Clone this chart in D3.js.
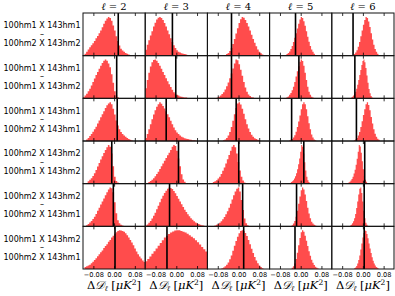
<!DOCTYPE html>
<html><head><meta charset="utf-8">
<script src="https://cdn.jsdelivr.net/npm/d3@7"></script>
<style>body{margin:0;background:#fff}svg{display:block}</style>
</head><body>
<svg id="c" width="395" height="296"></svg>
<script>
// ---------- data ----------
const ells = [2, 3, 4, 5, 6];
const rowLabels = [
  ["100hm1 X 143hm1", "100hm2 X 143hm2"],
  ["100hm1 X 143hm1", "100hm1 X 143hm2"],
  ["100hm1 X 143hm1", "100hm2 X 143hm1"],
  ["100hm2 X 143hm2", "100hm1 X 143hm2"],
  ["100hm2 X 143hm2", "100hm2 X 143hm1"],
  ["100hm1 X 143hm2", "100hm2 X 143hm1"]
];
const tickValues = [-0.08, 0.0, 0.08];
const xDomain = [-0.12, 0.12];

// first bin edge of each histogram (rows x columns)
const binStart = [
  [-0.114, -0.120, -0.054, -0.060, -0.040],
  [-0.120, -0.120, -0.084, -0.060, -0.046],
  [-0.108, -0.120, -0.060, -0.045, -0.035],
  [-0.108, -0.114, -0.105, -0.042, -0.060],
  [-0.108, -0.120, -0.093, -0.035, -0.050],
  [-0.114, -0.120, -0.066, -0.035, -0.034]
];
// bin width of each histogram
const binWidth = [
  [0.006, 0.006, 0.006, 0.005, 0.005],
  [0.006, 0.006, 0.006, 0.005, 0.004],
  [0.006, 0.006, 0.006, 0.005, 0.005],
  [0.006, 0.006, 0.006, 0.004, 0.004],
  [0.006, 0.006, 0.006, 0.005, 0.004],
  [0.006, 0.008, 0.006, 0.005, 0.004]
];
// observed value (vertical black line)
const observed = [
  [0.016, -0.015, -0.027, -0.020, -0.038],
  [0.010, -0.002, -0.027, -0.007, -0.031],
  [0.012, -0.039, -0.009, -0.035, -0.025],
  [-0.009, 0.0085, 0.001, 0.012, 0.007],
  [-0.003, -0.026, 0.016, -0.016, 0.005],
  [0.0035, -0.036, 0.020, -0.022, 0.005]
];

// histogram counts, one array per panel
const countsRow1 = [
  [5,10,16,22,27,32,38,45,51,58,65,73,82,90,96,100,97,90,78,65,50,38,26,18,13,10,7,5,3,2],
  [15,28,40,52,63,75,85,93,98,100,97,92,84,75,65,55,45,35,27,20,14,10,8,6,5,4,3,2,1],
  [2,4,7,12,20,30,43,57,71,84,94,100,98,92,84,75,65,54,43,33,24,16,10,6,3],
  [2,4,7,11,17,25,35,46,58,70,82,93,100,97,89,77,63,49,36,25,16,10,5,2],
  [2,4,8,14,23,35,50,65,80,92,100,97,88,74,58,42,28,17,10,5,2]
];
const countsRow2 = [
  [3,7,12,18,25,33,42,51,60,68,76,84,91,97,100,97,90,80,62,40,18,8,3,1],
  [26,47,66,82,93,99,100,97,91,84,76,68,60,52,44,36,29,22,16,12,9,7,5,4,3,2,2,1],
  [2,4,7,11,16,23,31,41,52,64,77,90,100,98,88,74,58,42,28,17,10,6,3,2,1],
  [1,3,5,9,14,21,30,42,56,70,83,94,100,96,84,66,47,30,17,9,4,2],
  [2,4,7,11,17,25,35,47,60,73,86,96,100,93,78,59,40,24,13,6,2]
];
const countsRow3 = [
  [4,8,13,18,24,30,37,45,53,61,69,77,85,92,97,100,95,83,68,53,40,30,23,18,14,11,8,5,3,1],
  [8,18,30,43,56,68,79,88,95,100,96,90,84,77,69,61,52,43,35,28,22,18,14,11,9,7,6,5,4,3,2,2,1],
  [2,4,8,14,23,36,52,69,85,97,100,94,83,70,56,43,32,23,16,11,7,5,3,2],
  [1,3,5,9,15,24,36,50,66,82,95,100,95,82,64,46,30,17,9,4,2],
  [2,4,8,14,23,36,51,67,82,95,100,93,79,62,45,30,19,11,6,3]
];
const countsRow4 = [
  [2,6,10,14,20,27,35,44,53,62,71,79,87,94,100,95,78,45,18,7,3,1],
  [2,4,7,10,14,19,25,31,38,45,52,59,66,73,80,87,95,100,97,85,65,45,24,11,5,2,1],
  [2,4,6,9,13,18,25,33,42,52,63,74,85,95,100,94,78,56,34,18,8,3,1],
  [2,4,6,9,13,19,27,37,50,65,82,100,95,78,55,34,18,9,4,2],
  [2,3,5,8,12,18,26,36,49,64,82,100,96,80,58,37,20,10,5,2]
];
const countsRow5 = [
  [3,6,10,14,19,25,32,40,48,56,64,72,80,88,95,100,98,88,62,34,16,8,4,2],
  [2,5,9,14,20,27,35,44,53,62,71,79,86,92,97,100,99,96,91,85,78,71,64,57,50,43,37,31,26,21,17,13,10,8,6,4,3,2,1],
  [2,4,6,9,13,18,24,31,39,48,58,69,80,90,97,100,90,68,42,20,8,3,1],
  [3,7,14,25,40,58,77,93,100,95,82,65,48,33,21,12,7,4,2],
  [2,4,8,13,21,32,47,64,82,97,100,86,64,40,21,9,4,1]
];
const countsRow6 = [
  [5,7,9,11,15,19,23,28,33,38,43,48,54,59,64,70,75,81,86,91,95,98,100,99,98,96,92,87,81,75,68,61,53,45,38,32,27,22,18],
  [20,26,32,39,46,53,60,67,74,81,86,90,94,97,99,100,100,98,96,94,91,87,83,79,74,69,63,57,51,45],
  [2,4,7,11,17,25,35,47,60,72,83,92,98,100,98,93,85,75,64,52,41,31,22,15,9,5,2],
  [3,7,14,26,42,61,80,95,100,96,86,73,59,46,34,24,16,10,6,3,1],
  [2,4,8,14,23,35,50,66,81,93,100,98,90,79,66,53,41,30,21,14,9,5,3,1]
];
const counts = [countsRow1, countsRow2, countsRow3, countsRow4, countsRow5, countsRow6];

// ---------- layout ----------
const svg = d3.select("#c");
const gLeft = 83, gRight = 394, gTop = 13, gBottom = 269;
const nCols = ells.length, nRows = rowLabels.length;
const cw = (gRight - gLeft) / nCols, ch = (gBottom - gTop) / nRows;

const x = d3.scaleLinear().domain(xDomain).range([0, cw]);
const fmt = d3.format(".2f");

const defs = svg.append("defs");
defs.append("clipPath").attr("id", "pclip")
  .append("rect").attr("x", 0).attr("y", 0).attr("width", cw).attr("height", ch);

for (let r = 0; r < nRows; r++) {
  for (let c = 0; c < nCols; c++) {
    const g = svg.append("g").attr("transform", `translate(${gLeft + c * cw},${gTop + r * ch})`);
    const cnt = counts[r][c];
    const s = binStart[r][c], w = binWidth[r][c];
    const y = d3.scaleLinear().domain([0, d3.max(cnt) * 1.1]).range([ch, 0]);
    const pts = cnt.map((v, i) => ({ e: s + i * w, v }));
    pts.push({ e: s + cnt.length * w, v: cnt[cnt.length - 1] });
    const area = d3.area().curve(d3.curveStepAfter)
      .x(d => x(d.e)).y0(y(0)).y1(d => y(d.v));
    const inner = g.append("g").attr("clip-path", "url(#pclip)");
    inner.append("path").datum(pts).attr("d", area)
      .attr("fill", "#ff0000").attr("fill-opacity", 0.7);
    inner.append("line")
      .attr("x1", x(observed[r][c])).attr("x2", x(observed[r][c]))
      .attr("y1", 0).attr("y2", ch)
      .attr("stroke", "#000").attr("stroke-width", 1.6);

    // ticks (inward) top and bottom
    const axB = d3.axisBottom(x).tickValues(tickValues).tickSize(-3).tickPadding(3).tickFormat(fmt);
    const gb = g.append("g").attr("transform", `translate(0,${ch})`).call(axB);
    gb.select(".domain").remove();
    gb.selectAll(".tick line").attr("stroke", "#000").attr("stroke-width", 0.8);
    if (r < nRows - 1) gb.selectAll(".tick text").remove();
    else gb.selectAll(".tick text").attr("font-family", "DejaVu Sans").attr("font-size", 6.6).attr("fill", "#000");
    const axT = d3.axisTop(x).tickValues(tickValues).tickSize(-3).tickFormat("");
    const gt = g.append("g").call(axT);
    gt.select(".domain").remove();
    gt.selectAll(".tick line").attr("stroke", "#000").attr("stroke-width", 0.8);

    // frame
    g.append("rect").attr("x", 0).attr("y", 0).attr("width", cw).attr("height", ch)
      .attr("fill", "none").attr("stroke", "#111").attr("stroke-width", 1);
  }
  // row labels
  const cy = gTop + (r + 0.5) * ch;
  const lab = svg.append("g").attr("font-family", "DejaVu Sans").attr("font-size", 8)
    .attr("text-anchor", "middle").attr("fill", "#000");
  lab.append("text").attr("x", 42).attr("y", cy - 6).text(rowLabels[r][0]);
  lab.append("text").attr("x", 42).attr("y", cy + 2.2).text("–");
  lab.append("text").attr("x", 42).attr("y", cy + 12).text(rowLabels[r][1]);
}

// column titles and x labels
for (let c = 0; c < nCols; c++) {
  const cx = gLeft + (c + 0.5) * cw;
  const t = svg.append("text").attr("x", cx).attr("y", 10).attr("text-anchor", "middle")
    .attr("font-family", "DejaVu Serif").attr("font-size", 10).attr("fill", "#000");
  t.append("tspan").attr("font-style", "italic").text("ℓ");
  t.append("tspan").text(" = " + ells[c]);

  const xl = svg.append("text").attr("x", cx).attr("y", 289).attr("text-anchor", "middle")
    .attr("font-family", "DejaVu Serif").attr("font-size", 11.5).attr("fill", "#000");
  xl.append("tspan").text("Δ");
  xl.append("tspan").attr("font-style", "italic").text("𝒟");
  xl.append("tspan").attr("font-size", 7.5).attr("dy", 2).attr("font-style", "italic").text("ℓ");
  xl.append("tspan").attr("dy", -2).text(" [");
  xl.append("tspan").attr("font-style", "italic").text("μK");
  xl.append("tspan").attr("font-size", 7.5).attr("dy", -4.5).text("2");
  xl.append("tspan").attr("dy", 4.5).text("]");
}
</script>
</body></html>
